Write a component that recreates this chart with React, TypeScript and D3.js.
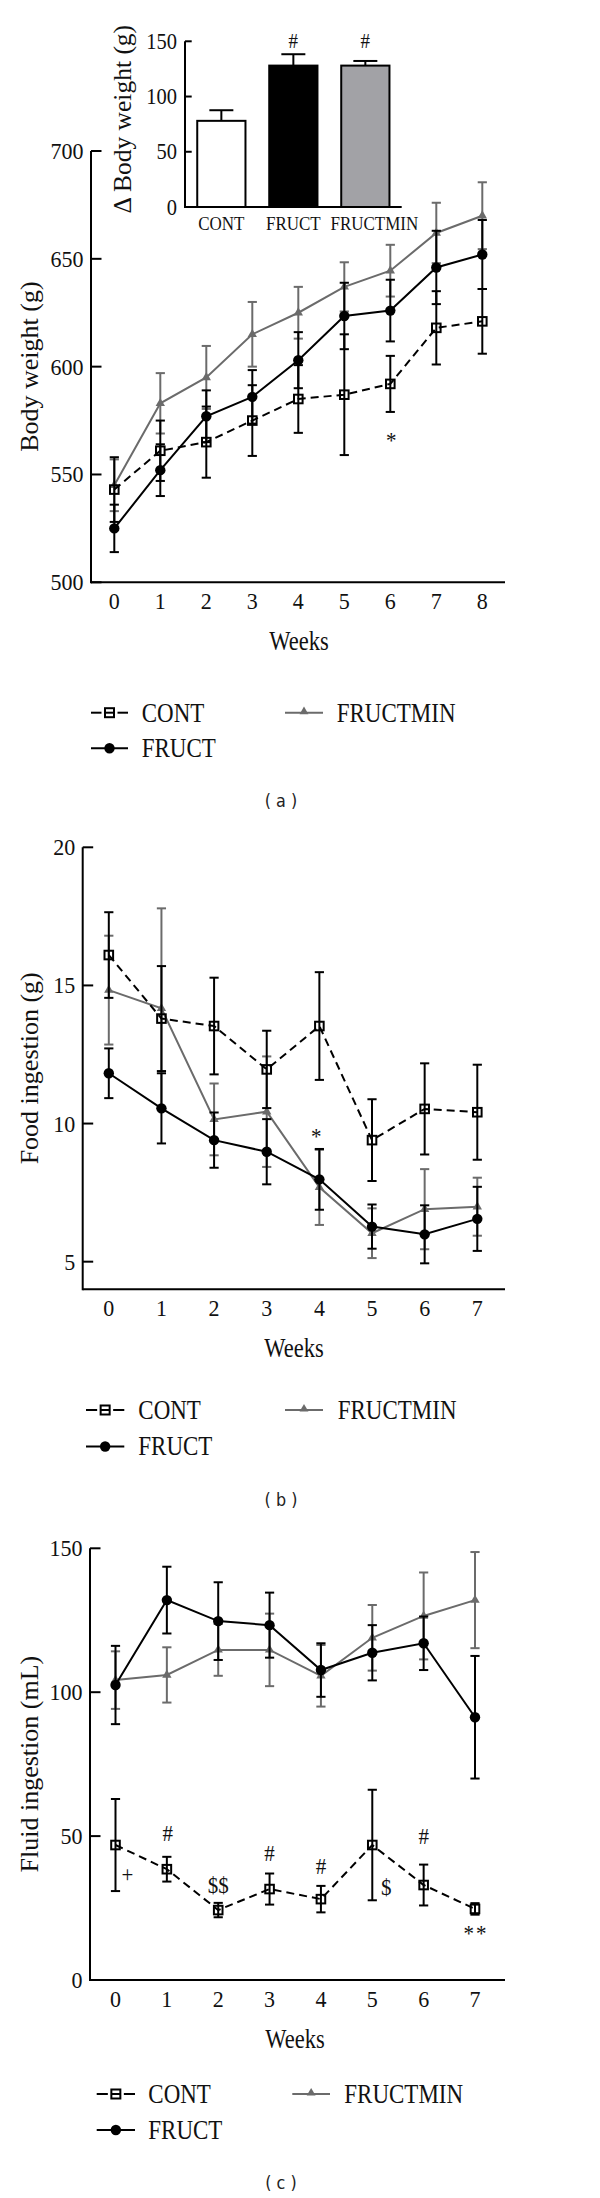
import React from "react";
import * as d3 from "d3";

// ---------- DATA ----------
const groups = ["CONT", "FRUCT", "FRUCTMIN"];

// Inset: change in body weight
const deltaBW = [78, 128, 128];
const deltaBWErr = [9.6, 10.3, 4.2];
const deltaBWSig = ["", "#", "#"];
const deltaTicks = [0, 50, 100, 150];

// (a) body weight
const bwWeeks = [0, 1, 2, 3, 4, 5, 6, 7, 8];
const bwCont = [543, 561, 565, 575, 585, 587, 592, 618, 621];
const bwContErr = [15, 14, 16.5, 16.4, 15.7, 28, 13, 17, 15];
const bwFruct = [525, 552, 577, 586, 603, 623.5, 626, 646, 652];
const bwFructErr = [11, 12, 12, 12.4, 13, 15.4, 14.3, 17, 16];
const bwFmin = [545, 583, 595, 615, 625, 637, 644.5, 662, 670];
const bwFminErr = [12, 14, 14.6, 15, 12, 11.4, 12, 14, 15.5];
const bwTicks = [500, 550, 600, 650, 700];
const bwMarks = [{ w: 6, v: 567.5, t: "*", dx: 1 }];

// (b) food ingestion
const fdWeeks = [0, 1, 2, 3, 4, 5, 6, 7];
const fdCont = [16.1, 13.8, 13.53, 11.96, 13.53, 9.4, 10.53, 10.41];
const fdContErr = [1.55, 1.9, 1.75, 1.4, 1.95, 1.48, 1.65, 1.72];
const fdFruct = [11.82, 10.55, 9.4, 8.98, 7.98, 6.27, 5.99, 6.55];
const fdFructErr = [0.9, 1.27, 1.0, 1.18, 1.1, 0.8, 1.05, 1.16];
const fdFmin = [14.83, 14.17, 10.15, 10.43, 7.69, 6.03, 6.9, 6.99];
const fdFminErr = [1.97, 3.62, 1.3, 2.0, 1.36, 0.9, 1.45, 1.05];
const fdTicks = [5, 10, 15, 20];
const fdMarks = [{ w: 4, v: 9.65, t: "*", dx: -3 }];

// (c) fluid ingestion
const flWeeks = [0, 1, 2, 3, 4, 5, 6, 7];
const flCont = [46.9, 38.5, 24.3, 31.6, 28.1, 46.9, 33, 24.7];
const flContErr = [16, 4.3, 2.5, 5.4, 4.6, 19.2, 7.1, 2];
const flFruct = [102.5, 132, 124.7, 123.3, 107.7, 113.7, 117, 91.3];
const flFructErr = [13.6, 11.6, 13.5, 11.3, 9.3, 9.6, 9.3, 21.3];
const flFmin = [104.2, 106, 114.7, 114.7, 105.7, 118.9, 126.5, 132];
const flFminErr = [10, 9.6, 9, 12.6, 10.7, 11.4, 15.1, 16.7];
const flTicks = [0, 50, 100, 150];
const flMarks = [
  { w: 0, v: 35.9, t: "+", dx: 12 },
  { w: 1, v: 51, t: "#", dx: 1 },
  { w: 2, v: 33, t: "$$", dx: 0 },
  { w: 3, v: 44, t: "#", dx: 0 },
  { w: 4, v: 39.6, t: "#", dx: 0 },
  { w: 5, v: 32.2, t: "$", dx: 14 },
  { w: 6, v: 50, t: "#", dx: 0 },
  { w: 7, v: 17.4, t: "**", dx: 1 },
];

// ---------- STYLE ----------
const GREY = "#6b6b6b";
const BAR_GREY = "#a2a2a6";
const SERIF = "'Liberation Serif','Times New Roman',Times,serif";
const SANS = "'DejaVu Sans',Verdana,sans-serif";
const LW = 2;
const insetLabelDx = [0, 0, 9];

function glyphDy(t: string) {
  if (t.includes("*")) return "0.47em";
  if (t.includes("+")) return "0.25em";
  return "0.33em";
}

// text stretched vertically like the original raster
function SText({
  x,
  y,
  sy,
  children,
  ...rest
}: { x: number; y: number; sy: number; children: React.ReactNode } & React.SVGProps<SVGTextElement>) {
  return (
    <g transform={`translate(${x},${y}) scale(1,${sy})`}>
      <text x={0} y={0} {...rest}>
        {children}
      </text>
    </g>
  );
}

type SeriesProps = {
  weeks: number[];
  vals: number[];
  errs: number[];
  x: d3.ScaleLinear<number, number>;
  y: d3.ScaleLinear<number, number>;
  color: string;
  kind: "square" | "circle" | "triangle";
};

function Series({ weeks, vals, errs, x, y, color, kind }: SeriesProps) {
  const line = d3
    .line<number>()
    .x((_, i) => x(weeks[i]))
    .y((d) => y(d));
  const cap = 4.6;
  const tri = d3.symbol().type(d3.symbolTriangle).size(38)() as string;
  return (
    <g>
      {vals.map((v, i) => {
        const cx = x(weeks[i]);
        const top = y(v + errs[i]);
        const bot = y(v - errs[i]);
        return (
          <g key={"e" + i} stroke={color} strokeWidth={LW}>
            <line x1={cx} x2={cx} y1={top} y2={bot} />
            <line x1={cx - cap} x2={cx + cap} y1={top} y2={top} />
            <line x1={cx - cap} x2={cx + cap} y1={bot} y2={bot} />
          </g>
        );
      })}
      <path
        d={line(vals) as string}
        fill="none"
        stroke={color}
        strokeWidth={LW}
        strokeDasharray={kind === "square" ? "8,5" : undefined}
      />
      {vals.map((v, i) => {
        const cx = x(weeks[i]);
        const cy = y(v);
        if (kind === "square")
          return (
            <rect key={"m" + i} x={cx - 4.3} y={cy - 4.3} width={8.6} height={8.6} fill="none" stroke={color} strokeWidth={LW} />
          );
        if (kind === "circle") return <circle key={"m" + i} cx={cx} cy={cy} r={5.2} fill={color} />;
        return <path key={"m" + i} d={tri} transform={`translate(${cx},${cy})`} fill={color} />;
      })}
    </g>
  );
}

type Legend = {
  row1: number;
  row2: number;
  sx0: number;
  sx1: number;
  tx: number;
  gx0: number;
  gx1: number;
  gtx: number;
};

function LegendBlock({ lg }: { lg: Legend }) {
  const tri = d3.symbol().type(d3.symbolTriangle).size(34)() as string;
  const mid = (lg.sx0 + lg.sx1) / 2;
  const gmid = (lg.gx0 + lg.gx1) / 2;
  const fs = 23;
  const sy = 1.18;
  const tp = { fontFamily: SERIF, fontSize: fs, fill: "#111", dy: "0.33em" };
  return (
    <g>
      {/* CONT */}
      <line x1={lg.sx0} x2={mid - 8} y1={lg.row1} y2={lg.row1} stroke="#000" strokeWidth={LW} />
      <line x1={mid - 4.5} x2={mid + 4.5} y1={lg.row1} y2={lg.row1} stroke="#000" strokeWidth={LW} />
      <line x1={mid + 8} x2={lg.sx1} y1={lg.row1} y2={lg.row1} stroke="#000" strokeWidth={LW} />
      <rect x={mid - 4.5} y={lg.row1 - 4.5} width={9} height={9} fill="none" stroke="#000" strokeWidth={LW} />
      <SText x={lg.tx} y={lg.row1} sy={sy} {...tp}>{groups[0]}</SText>
      {/* FRUCT */}
      <line x1={lg.sx0} x2={lg.sx1} y1={lg.row2} y2={lg.row2} stroke="#000" strokeWidth={LW} />
      <circle cx={mid} cy={lg.row2} r={5.2} fill="#000" />
      <SText x={lg.tx} y={lg.row2} sy={sy} {...tp}>{groups[1]}</SText>
      {/* FRUCTMIN */}
      <line x1={lg.gx0} x2={lg.gx1} y1={lg.row1} y2={lg.row1} stroke={GREY} strokeWidth={LW} />
      <path d={tri} transform={`translate(${gmid},${lg.row1 - 1})`} fill={GREY} />
      <SText x={lg.gtx} y={lg.row1} sy={sy} {...tp}>{groups[2]}</SText>
    </g>
  );
}

type PanelProps = {
  weeks: number[];
  cont: number[];
  contErr: number[];
  fruct: number[];
  fructErr: number[];
  fmin: number[];
  fminErr: number[];
  x: d3.ScaleLinear<number, number>;
  y: d3.ScaleLinear<number, number>;
  axisX: number;
  axisEnd: number;
  ticks: number[];
  yLabel: string;
  yLabelX: number;
  weeksX: number;
  marks: { w: number; v: number; t: string; dx: number }[];
  lg: Legend;
  title: string;
  titleY: number;
};

function Panel(p: PanelProps) {
  const [y0] = p.y.range();
  const yTop = p.y(p.ticks[p.ticks.length - 1]);
  const yMid = (y0 + yTop) / 2;
  return (
    <g>
      {/* axes */}
      <line x1={p.axisX} x2={p.axisX} y1={yTop} y2={y0 + 1} stroke="#000" strokeWidth={LW} />
      <line x1={p.axisX} x2={p.axisEnd} y1={y0} y2={y0} stroke="#000" strokeWidth={LW} />
      {p.ticks.map((t) => (
        <g key={t}>
          <line x1={p.axisX} x2={p.axisX + 10.5} y1={p.y(t)} y2={p.y(t)} stroke="#000" strokeWidth={LW} />
          <SText x={p.axisX - 7.5} y={p.y(t)} sy={1.07} dy="0.34em" textAnchor="end" fontFamily={SERIF} fontSize={22} fill="#111">
            {t}
          </SText>
        </g>
      ))}
      {p.weeks.map((w) => (
        <SText key={w} x={p.x(w)} y={y0 + 19} sy={1.07} dy="0.34em" textAnchor="middle" fontFamily={SERIF} fontSize={22} fill="#111">
          {w}
        </SText>
      ))}
      <SText x={p.weeksX} y={y0 + 59} sy={1.2} dy="0.34em" textAnchor="middle" fontFamily={SERIF} fontSize={22.5} fill="#111">
        Weeks
      </SText>
      <text
        transform={`translate(${p.yLabelX},${yMid}) rotate(-90)`}
        textAnchor="middle"
        fontFamily={SERIF}
        fontSize={26}
        fill="#111"
      >
        {p.yLabel}
      </text>
      {/* series */}
      <Series weeks={p.weeks} vals={p.fmin} errs={p.fminErr} x={p.x} y={p.y} color={GREY} kind="triangle" />
      <Series weeks={p.weeks} vals={p.fruct} errs={p.fructErr} x={p.x} y={p.y} color="#000" kind="circle" />
      <Series weeks={p.weeks} vals={p.cont} errs={p.contErr} x={p.x} y={p.y} color="#000" kind="square" />
      {p.marks.map((m, i) => (
        <SText
          key={i}
          x={p.x(m.w) + m.dx}
          y={p.y(m.v)}
          sy={1.1}
          dy={glyphDy(m.t)}
          textAnchor="middle"
          fontFamily={SERIF}
          fontSize={21}
          letterSpacing={m.t === "**" ? 2 : 0}
          fill="#111"
        >
          {m.t}
        </SText>
      ))}
      <LegendBlock lg={p.lg} />
      <SText x={281} y={p.titleY} sy={1.1} dy="0.32em" textAnchor="middle" fontFamily={SANS} fontSize={16} fill="#222">
        ( {p.title} )
      </SText>
    </g>
  );
}

function Inset() {
  const axisX = 185;
  const axisEnd = 401.7;
  const y = d3.scaleLinear().domain([0, 150]).range([207, 41.3]);
  const x = d3.scaleBand<string>().domain(groups).range([axisX, axisEnd]).paddingInner(0.33).paddingOuter(0.17);
  const fills = ["#fff", "#000", BAR_GREY];
  const bw = x.bandwidth();
  const cap = 12;
  return (
    <g>
      {groups.map((g, i) => {
        const bx = x(g) as number;
        const cx = bx + bw / 2;
        const top = y(deltaBW[i] + deltaBWErr[i]);
        return (
          <g key={g}>
            <line x1={cx} x2={cx} y1={y(deltaBW[i])} y2={top} stroke="#000" strokeWidth={LW} />
            <line x1={cx - cap} x2={cx + cap} y1={top} y2={top} stroke="#000" strokeWidth={LW} />
            <rect x={bx} y={y(deltaBW[i])} width={bw} height={y(0) - y(deltaBW[i])} fill={fills[i]} stroke="#000" strokeWidth={LW} />
            <SText x={cx + insetLabelDx[i]} y={y(0) + 23} sy={1.15} textAnchor="middle" fontFamily={SERIF} fontSize={17} fill="#111">
              {g}
            </SText>
            {deltaBWSig[i] && (
              <SText x={cx} y={y(150)} sy={1.1} dy="0.33em" textAnchor="middle" fontFamily={SERIF} fontSize={19} fill="#111">
                {deltaBWSig[i]}
              </SText>
            )}
          </g>
        );
      })}
      <line x1={axisX} x2={axisX} y1={y(150)} y2={y(0) + 1} stroke="#000" strokeWidth={LW} />
      <line x1={axisX} x2={axisEnd} y1={y(0)} y2={y(0)} stroke="#000" strokeWidth={LW} />
      {deltaTicks.map((t) => (
        <g key={t}>
          <line x1={axisX} x2={axisX + 6.7} y1={y(t)} y2={y(t)} stroke="#000" strokeWidth={LW} />
          <SText x={axisX - 8} y={y(t)} sy={1.1} dy="0.34em" textAnchor="end" fontFamily={SERIF} fontSize={20.5} fill="#111">
            {t}
          </SText>
        </g>
      ))}
      <text transform={`translate(131,${(y(0) + y(150)) / 2 - 5}) rotate(-90)`} textAnchor="middle" fontFamily={SERIF} fontSize={25.5} fill="#111">
        Δ Body weight (g)
      </text>
    </g>
  );
}

export default function App() {
  const xA = d3.scaleLinear().domain([0, 8]).range([114.3, 482.3]);
  const yA = d3.scaleLinear().domain([500, 700]).range([582.3, 151]);
  const xB = d3.scaleLinear().domain([0, 7]).range([108.8, 477.3]);
  const yB = d3.scaleLinear().domain([4, 20]).range([1289.3, 847.3]);
  const xC = d3.scaleLinear().domain([0, 7]).range([115.5, 475]);
  const yC = d3.scaleLinear().domain([0, 150]).range([1980, 1548.3]);

  return (
    <svg
      width={600}
      height={2198}
      viewBox="0 0 600 2198"
      style={{ position: "absolute", left: 0, top: 0, background: "#fff" }}
    >
      <rect x={0} y={0} width={600} height={2198} fill="#fff" />
      <Panel
        weeks={bwWeeks}
        cont={bwCont}
        contErr={bwContErr}
        fruct={bwFruct}
        fructErr={bwFructErr}
        fmin={bwFmin}
        fminErr={bwFminErr}
        x={xA}
        y={yA}
        axisX={91}
        axisEnd={505}
        ticks={bwTicks}
        yLabel="Body weight (g)"
        yLabelX={38}
        weeksX={299}
        marks={bwMarks}
        lg={{ row1: 712.7, row2: 748.3, sx0: 91, sx1: 128, tx: 141.7, gx0: 285, gx1: 323, gtx: 336.7 }}
        title="a"
        titleY={801.7}
      />
      <Inset />
      <Panel
        weeks={fdWeeks}
        cont={fdCont}
        contErr={fdContErr}
        fruct={fdFruct}
        fructErr={fdFructErr}
        fmin={fdFmin}
        fminErr={fdFminErr}
        x={xB}
        y={yB}
        axisX={82.7}
        axisEnd={505}
        ticks={fdTicks}
        yLabel="Food ingestion (g)"
        yLabelX={38}
        weeksX={294}
        marks={fdMarks}
        lg={{ row1: 1410, row2: 1446.5, sx0: 86, sx1: 124.3, tx: 138.3, gx0: 285, gx1: 323, gtx: 337.7 }}
        title="b"
        titleY={1500}
      />
      <Panel
        weeks={flWeeks}
        cont={flCont}
        contErr={flContErr}
        fruct={flFruct}
        fructErr={flFructErr}
        fmin={flFmin}
        fminErr={flFminErr}
        x={xC}
        y={yC}
        axisX={90}
        axisEnd={505}
        ticks={flTicks}
        yLabel="Fluid ingestion (mL)"
        yLabelX={38}
        weeksX={295}
        marks={flMarks}
        lg={{ row1: 2094, row2: 2130, sx0: 96.7, sx1: 135, tx: 148.3, gx0: 292.3, gx1: 330, gtx: 344.3 }}
        title="c"
        titleY={2183.3}
      />
    </svg>
  );
}
